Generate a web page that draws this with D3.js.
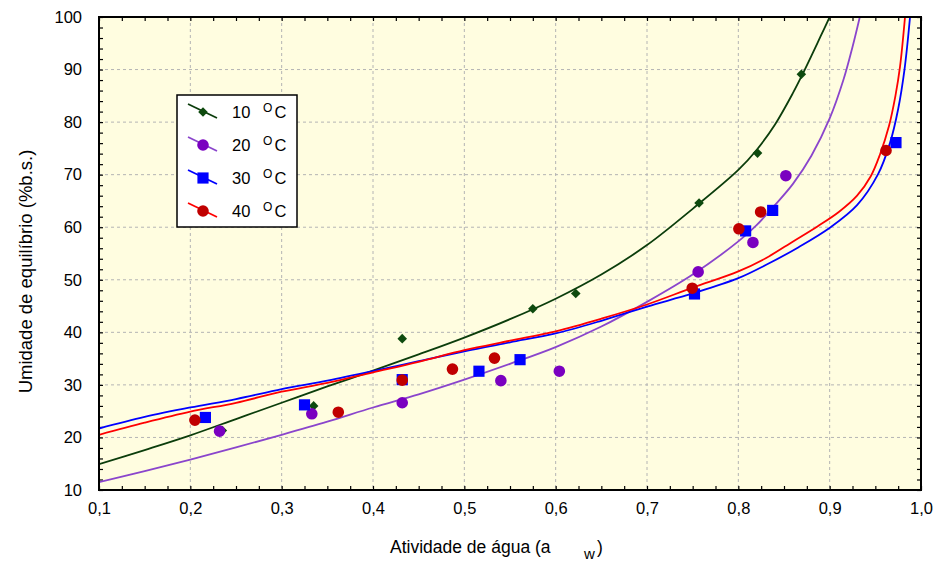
<!DOCTYPE html>
<html>
<head>
<meta charset="utf-8">
<script src="https://cdn.jsdelivr.net/npm/d3@7"></script>
<style>
  body { margin: 0; background: #fff; }
  text { font-family: "Liberation Sans", Arial, sans-serif; fill: #000; }
</style>
</head>
<body>
<svg id="chart" width="937" height="567"></svg>
<script>
// legend labels (temperature, °C)
const temps = ["10", "20", "30", "40"];

// observed points [aw, X (%b.s.)]
const obs10 = [[0.235, 21.3], [0.335, 26.0], [0.432, 38.8], [0.575, 44.5], [0.622, 47.4], [0.757, 64.6], [0.821, 74.1], [0.869, 89.1]];
const obs20 = [[0.232, 21.2], [0.333, 24.5], [0.432, 26.6], [0.540, 30.8], [0.604, 32.6], [0.756, 51.5], [0.816, 57.1], [0.852, 69.8]];
const obs30 = [[0.2165, 23.8], [0.325, 26.2], [0.432, 31.0], [0.516, 32.6], [0.561, 34.8], [0.752, 47.3], [0.808, 59.3], [0.8376, 63.2], [0.9726, 76.1]];
const obs40 = [[0.205, 23.3], [0.362, 24.8], [0.432, 30.9], [0.487, 33.0], [0.533, 35.1], [0.7495, 48.4], [0.8006, 59.7], [0.8244, 62.9], [0.9617, 74.6]];

// fitted curves [aw, X]
const fit10 = [[0.1, 14.9], [0.15, 17.6], [0.2, 20.4], [0.25, 23.5], [0.3, 26.6], [0.35, 29.7], [0.4, 32.7], [0.45, 35.8], [0.5, 39.0],
  [0.55, 42.5], [0.6, 46.4], [0.65, 51.0], [0.7, 56.6], [0.75, 63.5], [0.8, 70.9], [0.82, 74.7], [0.84, 79.5], [0.86, 85.6],
  [0.87, 89.0], [0.88, 92.6], [0.89, 96.3], [0.9, 100]];
const fit20 = [[0.1, 11.5], [0.15, 13.6], [0.2, 15.8], [0.25, 18.1], [0.3, 20.5], [0.35, 23.0], [0.4, 25.7], [0.45, 28.2], [0.5, 31.0],
  [0.55, 34.0], [0.6, 37.2], [0.65, 41.1], [0.7, 45.8], [0.75, 51.0], [0.8, 57.3], [0.82, 60.4], [0.84, 64.2], [0.86, 68.3],
  [0.88, 73.6], [0.9, 80.7], [0.915, 88.0], [0.925, 94.3], [0.933, 100]];
const fit30 = [[0.1, 21.7], [0.15, 23.9], [0.2, 25.7], [0.25, 27.3], [0.3, 29.2], [0.35, 30.8], [0.4, 32.6], [0.45, 34.5], [0.5, 36.4],
  [0.55, 38.1], [0.6, 39.8], [0.65, 42.2], [0.7, 44.9], [0.75, 47.4], [0.8, 50.3], [0.83, 52.8], [0.866, 56.2], [0.901, 60.0],
  [0.93, 64.2], [0.953, 70.1], [0.966, 76.0], [0.975, 82.5], [0.982, 90.1], [0.988, 100]];
const fit40 = [[0.1, 20.5], [0.15, 22.8], [0.2, 24.9], [0.25, 26.6], [0.3, 28.7], [0.35, 30.4], [0.4, 32.4], [0.45, 34.4], [0.5, 36.6],
  [0.55, 38.4], [0.6, 40.2], [0.65, 42.6], [0.7, 45.3], [0.75, 48.5], [0.8, 51.6], [0.83, 54.1], [0.86, 57.3], [0.887, 60.2],
  [0.91, 62.9], [0.93, 66.0], [0.945, 69.7], [0.955, 73.8], [0.965, 79.3], [0.972, 85.0], [0.977, 90.5], [0.9825, 100]];

const xTicks = [0.1, 0.2, 0.3, 0.4, 0.5, 0.6, 0.7, 0.8, 0.9, 1.0];
const yTicks = [10, 20, 30, 40, 50, 60, 70, 80, 90, 100];

const series = [
  { obs: obs10, fit: fit10, line: "#0b3d0b", mark: "#0e4a0e", shape: "diamond" },
  { obs: obs20, fit: fit20, line: "#8a45cc", mark: "#7a00c0", shape: "circle" },
  { obs: obs30, fit: fit30, line: "#0000ff", mark: "#0000ff", shape: "square" },
  { obs: obs40, fit: fit40, line: "#ff0000", mark: "#c00000", shape: "circle" },
];

const svg = d3.select("#chart");
const margin = { top: 17, right: 16, bottom: 77, left: 99 };
const width = 937 - margin.left - margin.right;
const height = 567 - margin.top - margin.bottom;

const x = d3.scaleLinear().domain([0.1, 1.0]).range([0, width]);
const y = d3.scaleLinear().domain([10, 100]).range([height, 0]);

const g = svg.append("g").attr("transform", `translate(${margin.left},${margin.top})`);

g.append("rect").attr("width", width).attr("height", height).attr("fill", "#fffde0");

svg.append("clipPath").attr("id", "plot-clip")
  .append("rect").attr("width", width).attr("height", height);

// grid
g.append("g").selectAll("line").data(xTicks.slice(1, -1)).join("line")
  .attr("x1", (d) => x(d)).attr("x2", (d) => x(d)).attr("y1", 0).attr("y2", height)
  .attr("stroke", "#b4b4b4").attr("stroke-dasharray", "3,3");
g.append("g").selectAll("line").data(yTicks.slice(1, -1)).join("line")
  .attr("y1", (d) => y(d)).attr("y2", (d) => y(d)).attr("x1", 0).attr("x2", width)
  .attr("stroke", "#b4b4b4").attr("stroke-dasharray", "3,3");

// minor ticks, pointing inward on all four sides
const xMinor = d3.range(0.1, 1.0001, 0.025);
const yMinor = d3.range(10, 100.001, 2);
const minor = (axis) => axis.tickSize(-4).tickFormat("");
g.append("g").attr("transform", `translate(0,${height})`).call(minor(d3.axisBottom(x).tickValues(xMinor)));
g.append("g").call(minor(d3.axisTop(x).tickValues(xMinor)));
g.append("g").call(minor(d3.axisLeft(y).tickValues(yMinor)));
g.append("g").attr("transform", `translate(${width},0)`).call(minor(d3.axisRight(y).tickValues(yMinor)));
g.selectAll(".domain").remove();
g.selectAll(".tick line").attr("stroke", "#000").attr("stroke-width", 1.2);

// tick labels
const xAxis = g.append("g").attr("transform", `translate(0,${height})`)
  .call(d3.axisBottom(x).tickValues(xTicks).tickSize(0).tickPadding(12.5)
    .tickFormat((d) => d3.format(".1f")(d).replace(".", ",")));
const yAxis = g.append("g")
  .call(d3.axisLeft(y).tickValues(yTicks).tickSize(0).tickPadding(17));
[xAxis, yAxis].forEach((a) => {
  a.select(".domain").remove();
  a.selectAll("text").attr("font-size", 16.5).attr("font-family", '"Liberation Sans", Arial, sans-serif').attr("fill", "#000");
});

// fitted curves and points
const line = d3.line().x((d) => x(d[0])).y((d) => y(d[1])).curve(d3.curveCatmullRom.alpha(0.5));
const symbolFor = (shape) =>
  shape === "diamond" ? d3.symbol(d3.symbolSquare, 46)
  : shape === "square" ? d3.symbol(d3.symbolSquare, 125)
  : d3.symbol(d3.symbolCircle, 106);

const plot = g.append("g").attr("clip-path", "url(#plot-clip)");
series.forEach((s) => {
  plot.append("path").datum(s.fit).attr("d", line)
    .attr("fill", "none").attr("stroke", s.line).attr("stroke-width", 1.8);
  plot.append("g").selectAll("path").data(s.obs).join("path")
    .attr("d", symbolFor(s.shape))
    .attr("transform", (d) => `translate(${x(d[0])},${y(d[1])})` + (s.shape === "diamond" ? " rotate(45)" : ""))
    .attr("fill", s.mark);
});

// frame
g.append("rect").attr("width", width).attr("height", height)
  .attr("fill", "none").attr("stroke", "#000").attr("stroke-width", 2);

// legend
const legend = svg.append("g").attr("transform", "translate(177,95)");
legend.append("rect").attr("width", 120).attr("height", 132)
  .attr("fill", "#fff").attr("stroke", "#000").attr("stroke-width", 1.5);
series.forEach((s, i) => {
  const row = legend.append("g").attr("transform", `translate(0,${17 + i * 33})`);
  row.append("line").attr("x1", 11).attr("y1", -8).attr("x2", 40).attr("y2", 6)
    .attr("stroke", s.line).attr("stroke-width", 1.8);
  row.append("path").attr("d", symbolFor(s.shape)())
    .attr("transform", "translate(26,0)" + (s.shape === "diamond" ? " rotate(45)" : ""))
    .attr("fill", s.mark);
  row.append("text").attr("x", 55).attr("y", 6).attr("font-size", 16.5).text(temps[i]);
  row.append("text").attr("x", 86).attr("y", 0).attr("font-size", 12).text("O");
  row.append("text").attr("x", 97.5).attr("y", 6).attr("font-size", 16.5).text("C");
});

// axis titles
const xTitle = svg.append("text").attr("x", 390).attr("y", 553).attr("font-size", 17.5);
xTitle.append("tspan").text("Atividade de água (a");
xTitle.append("tspan").attr("x", 584).attr("y", 559).attr("font-size", 15).text("w");
xTitle.append("tspan").attr("x", 597).attr("y", 553).text(")");

svg.append("text")
  .attr("transform", "translate(31.5,271.5) rotate(-90)")
  .attr("text-anchor", "middle").attr("font-size", 18.5)
  .text("Umidade de equilíbrio (%b.s.)");
</script>
</body>
</html>
